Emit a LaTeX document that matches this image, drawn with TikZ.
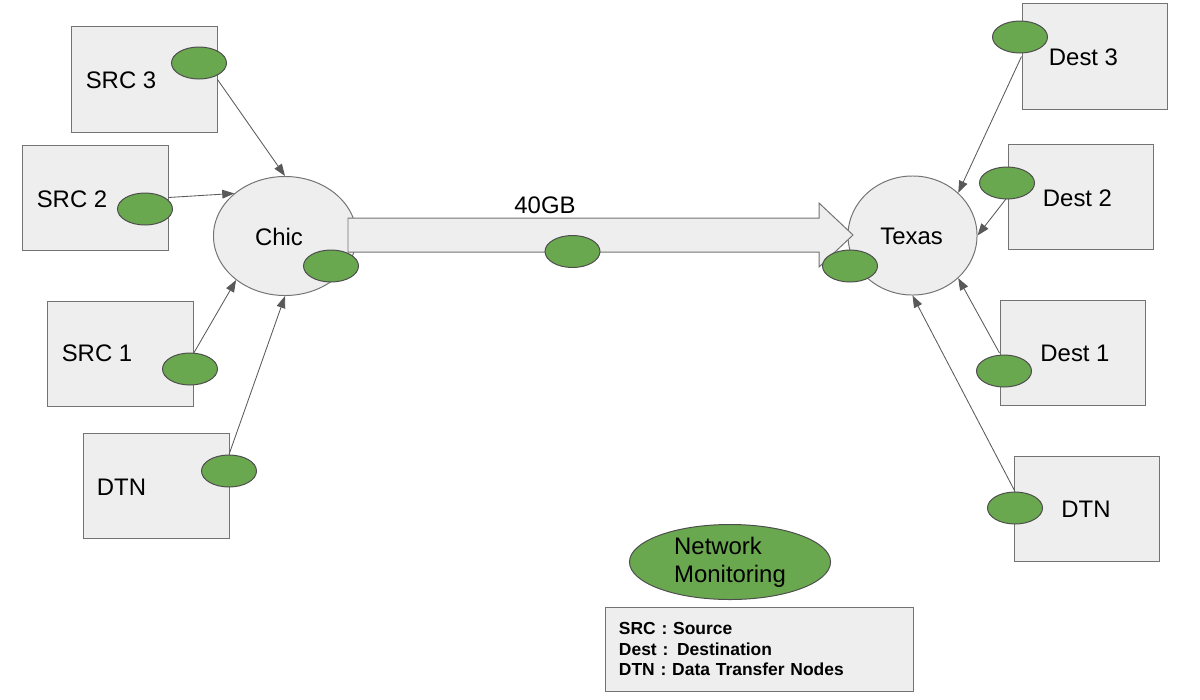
\documentclass[tikz,border=0pt]{standalone}
\usepackage{fontspec}
\setmainfont{Liberation Sans}
\usetikzlibrary{shapes.geometric,arrows.meta}
\definecolor{boxgray}{HTML}{EEEEEE}
\definecolor{edgegray}{HTML}{737373}
\definecolor{linegray}{HTML}{595959}
\definecolor{probegreen}{HTML}{6AA84F}
\definecolor{probeedge}{HTML}{4D4D4D}
\begin{document}
\begin{tikzpicture}[x=0.025cm,y=-0.025cm,
    hostbox/.style={draw=edgegray,fill=boxgray,line width=0.7pt,minimum width=3.625cm,minimum height=2.625cm,inner sep=0pt},
    hub/.style={ellipse,draw=edgegray,fill=boxgray,line width=0.7pt,inner sep=0pt,font=\fontsize{17}{20}\selectfont},
    probe/.style={ellipse,draw=probeedge,fill=probegreen,line width=0.7pt,minimum width=1.375cm,minimum height=0.8cm,inner sep=0pt},
    tag/.style={inner sep=0pt,font=\fontsize{17}{20}\selectfont},
    flow/.style={draw=linegray,line width=0.6pt,-{Triangle[length=0.3cm,width=0.22cm]}}]
    \useasboundingbox (0,0) rectangle (1200,699);
    % hosts on the left
    \node[hostbox] (src3) at (144.5,79.5) {};
    \node[hostbox] (src2) at (95.5,197.5) {};
    \node[hostbox] (src1) at (120.5,353.5) {};
    \node[hostbox] (dtnl) at (156.5,485.5) {};
    % hosts on the right
    \node[hostbox] (dst3) at (1094.5,56.5) {};
    \node[hostbox] (dst2) at (1080.5,197) {};
    \node[hostbox] (dst1) at (1072.5,353) {};
    \node[hostbox] (dtnr) at (1086.5,508.5) {};
    % sites
    \node[hub,minimum width=3.575cm,minimum height=2.975cm] (chic) at (285,236) {};
    \node[hub,minimum width=3.225cm,minimum height=2.975cm] (texas) at (912.5,235.5) {};
    % link between sites
    \filldraw[draw=edgegray,fill=boxgray,line width=0.7pt] (348,218) -- (819,218) -- (819,203) -- (853,235)
        -- (819,267) -- (819,252) -- (348,252) -- cycle;
    \node[tag] (rate) at (545,205) {40GB};
    % connectors
    \draw[flow] (src3.east) -- (chic.north);
    \draw[flow] (src2.east) -- (chic.140);
    \draw[flow] (src1.east) -- (chic.222);
    \draw[flow] (dst3.west) -- (texas.43);
    \draw[flow] (dst2.west) -- (texas.east);
    \draw[flow] (dst1.west) -- (texas.-43);
    % monitoring points
    \node[probe] (p3) at (199,63) {};
    \node[probe] (p2) at (145,209) {};
    \node[probe] (p1) at (190,369) {};
    \node[probe] (pdl) at (229,471) {};
    \node[probe] (pc) at (331,266) {};
    \node[probe] (pm) at (572.5,251.5) {};
    \node[probe] (pt) at (850,266) {};
    \node[probe] (pd3) at (1020,37) {};
    \node[probe] (pd2) at (1007,183) {};
    \node[probe] (pd1) at (1004,371) {};
    \node[probe] (pdr) at (1015,508) {};
    \draw[flow] (pdl.north) -- (chic.south);
    \draw[flow] (pdr.north) -- (texas.south);
    % labels
    \node[tag] (t-src3) at (121,80.5) {SRC 3};
    \node[tag] (t-src2) at (72,199) {SRC 2};
    \node[tag] (t-src1) at (97,353.5) {SRC 1};
    \node[tag] (t-dtnl) at (121.5,487) {DTN};
    \node[tag] (t-dst3) at (1083.5,57.5) {Dest 3};
    \node[tag] (t-dst2) at (1077.5,198.5) {Dest 2};
    \node[tag] (t-dst1) at (1075,353) {Dest 1};
    \node[tag] (t-dtnr) at (1086,509.5) {DTN};
    \node[tag] (t-chic) at (279,236.5) {Chic};
    \node[tag] (t-texas) at (911.5,236.5) {Texas};
    % key
    \node[probe,minimum width=5.025cm,minimum height=1.875cm,align=left,
        font=\fontsize{17}{20}\selectfont] (nm) at (730,562) {Network\\Monitoring};
    \node[draw=edgegray,fill=boxgray,line width=0.7pt,minimum width=7.675cm,minimum height=2.1cm,
        text width=7.025cm,inner xsep=0.325cm,align=left,font=\fontsize{12.4}{14.9}\selectfont\bfseries]
        (key) at (759.5,649) {SRC : Source\\Dest : Destination\\DTN : Data Transfer Nodes};
\end{tikzpicture}
\end{document}
